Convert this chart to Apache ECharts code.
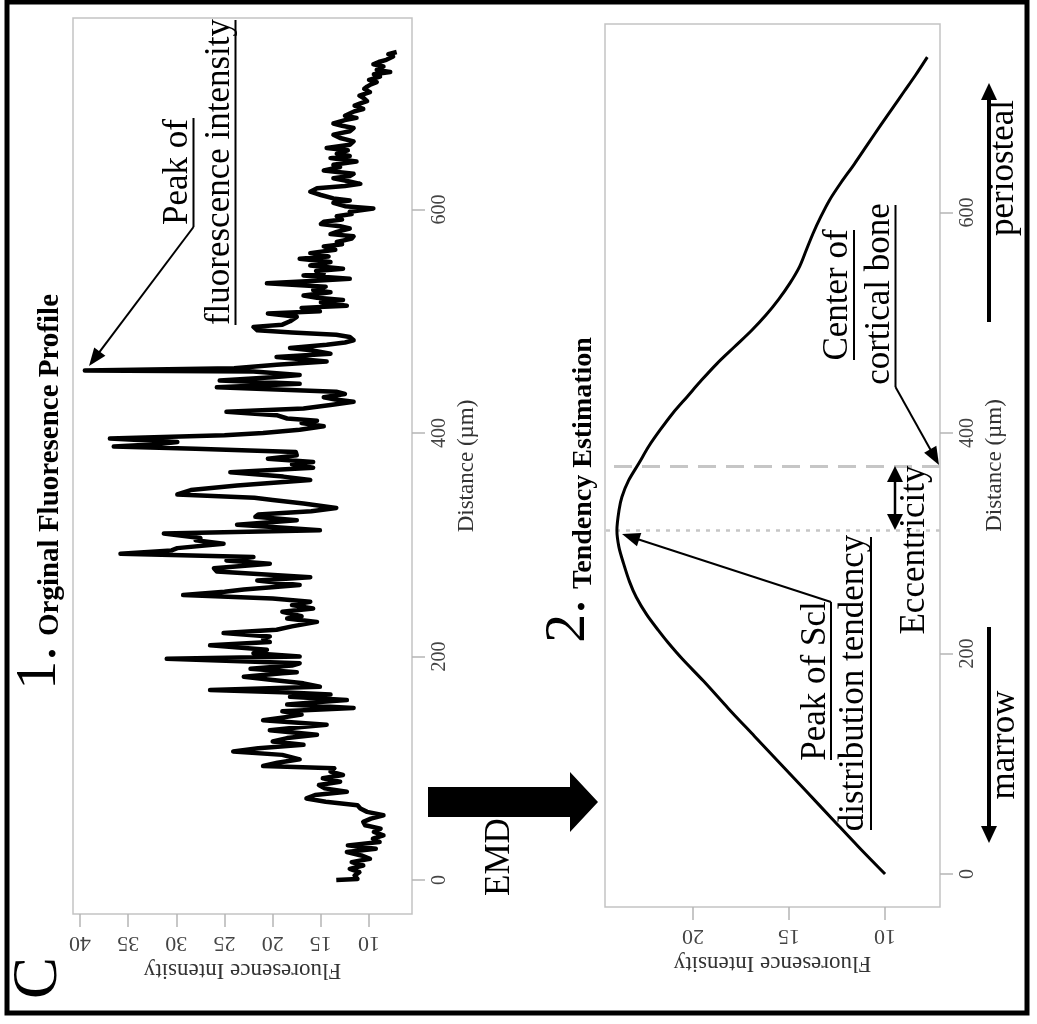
<!DOCTYPE html>
<html><head><meta charset="utf-8">
<script src="https://cdn.jsdelivr.net/npm/echarts@6/dist/echarts.min.js"></script>
<style>html,body{margin:0;padding:0;background:#fff}#c{width:1037px;height:1024px}</style>
</head><body><div id="c"></div>
<script>
// Panel 1: original fluorescence profile (distance in µm, fluorescence intensity)
const distance1 = [0,1,4,7,10,13,16,19,22,25,28,31,34,37,40,43,46,49,52,55,58,61,64,67,70,73,76,79,82,85,88,91,94,97,100,102,
105,108,112,115,118,121,124,127,130,134,137,139,143,146,148,151,154,157,159,161,164,166,168,170,173,176,179,182,185,186,189,192,194,198,200,203,206,210,213,216,218,221,224,227,231,234,236,
240,243,246,249,252,255,258,260,264,268,271,274,276,279,283,286,289,292,295,297,301,304,306,310,313,316,318,322,325,327,330,333,337,340,342,345,349,353,358,361,365,369,
372,374,377,380,383,386,388,390,392,395,398,400,403,406,409,411,413,416,419,422,425,428,430,432,435,437,441,444,447,450,452,455,456,458,461,464,466,468,471,474,476,479,481,483,486,488,490,492,495,497,500,504,
507,509,512,514,517,519,521,523,526,528,531,534,536,538,541,543,545,547,550,553,556,558,561,564,567,569,571,574,576,578,580,583,585,587,589,591,594,596,598,601,603,606,608,610,613,616,619,621,623,626,628,630,632,635,638,640,
643,646,648,650,653,655,658,661,664,667,670,673,675,677,680,682,684,686,688,690,693,695,697,700,702,705,708,710,712,714,716,719,721,723,725,728,730,732,734,737,739,741];
const intensity1 = [13.4,11.2,11.5,11.0,12.0,10.6,11.8,9.9,10.8,12.3,9.3,12.2,8.9,9.6,8.5,9.5,8.8,10.4,10.6,9.8,8.5,10.2,10.9,11.2,14.5,16.5,15.6,12.3,14.6,15.2,13.0,14.8,12.7,14.0,13.6,21.0,
19.5,17.2,19.0,24.1,21.5,16.8,20.0,18.5,15.4,20.3,17.0,14.4,21.0,18.5,17.0,19.0,11.6,18.5,15.5,12.3,18.2,14.0,19.0,26.5,15.1,16.8,20.0,23.0,19.0,17.5,22.3,18.0,17.2,31.0,17.2,22.0,20.6,26.5,20.3,21.0,20.3,25.1,19.6,18.0,15.4,18.5,17.0,
19.0,15.8,18.0,16.1,20.0,29.3,25.0,23.0,17.2,21.6,16.1,22.0,25.8,26.1,20.3,24.8,22.0,35.8,30.5,29.9,25.1,28.0,27.5,31.3,15.1,20.0,23.7,17.5,21.8,21.5,16.0,13.4,16.8,20.0,21.9,29.9,28.5,23.7,16.1,18.9,24.4,15.8,
18.0,15.8,20.5,17.5,17.6,28.0,36.5,32.0,29.9,36.9,25.0,21.0,17.2,14.7,17.0,15.4,18.5,19.6,24.8,16.8,14.0,11.6,13.5,14.7,12.5,13.4,25.8,17.2,25.5,20.0,17.2,22.0,39.5,24.0,19.6,14.4,17.0,19.6,14.0,16.0,18.2,14.4,12.5,11.6,12.0,13.4,18.0,21.6,22.0,19.0,18.2,17.5,
20.5,15.1,17.0,12.3,15.0,12.7,15.4,16.8,14.0,15.8,14.5,20.6,16.0,12.0,16.8,14.7,15.5,12.7,16.1,14.0,17.2,14.2,16.1,13.5,14.7,12.8,13.35,11.8,11.6,14.0,13.35,12.0,13.0,15.0,14.7,12.8,13.35,11.8,12.0,9.55,12.5,13.7,12.0,13.7,15.0,16.1,15.4,12.5,10.9,12.5,13.7,12.0,11.6,14.7,13.0,13.7,
11.3,14.0,12.0,13.35,12.2,14.4,12.0,11.6,13.0,13.7,12.0,11.6,12.8,13.7,12.5,11.3,12.5,12.0,11.5,10.6,11.5,10.9,10.2,10.6,11.0,9.9,10.5,10.2,9.8,9.2,10.0,8.86,9.5,7.8,9.2,8.5,9.55,9.0,8.2,7.5,8.0,7.13];

// Panel 2: tendency estimation (EMD trend)
const distance2 = [0,25,50,75,100,125,150,175,195,210,221,235,251,265,282,297,312,330,342,357,373,388,403,418,433,448,463,478,493,507,521,536,551,566,581,596,611,627,644,662,680,695,710,725,741];
const intensity2 = [10,11.4,12.75,14.1,15.45,16.8,18.15,19.45,20.55,21.3,21.8,22.4,22.95,23.3,23.62,23.86,23.96,23.85,23.7,23.35,22.8,22.3,21.7,21.05,20.3,19.55,18.75,17.85,16.95,16.2,15.55,14.95,14.45,14.1,13.75,13.35,12.9,12.3,11.6,10.9,10.2,9.6,9.0,8.4,7.8];

const intensityTicks1 = [10,15,20,25,30,35,40];
const intensityTicks2 = [10,15,20];
const distanceTicks = [0,200,400,600];
const centerDistance = 370;   // center of cortical bone
const peakDistance = 312;     // peak of Scl distribution tendency

const SERIF = "'Liberation Serif','Times New Roman',serif";

function zip(a, b) { return a.map((v, i) => [b[i], v]); }

function rtext(str, cx, cy, size, bold) {
  return { type: 'text', x: cx, y: cy, rotation: Math.PI / 2, z: 100,
    style: { text: str, fontSize: size, fontFamily: SERIF, fontWeight: bold ? 'bold' : 'normal',
      fill: '#000', align: 'center', verticalAlign: 'middle' } };
}
function seg(x1, y1, x2, y2, w) {
  return { type: 'line', z: 100, shape: { x1, y1, x2, y2 }, style: { stroke: '#000', lineWidth: w || 2 } };
}
function arrow(fx, fy, tx, ty, w, len, half) {
  const dx = tx - fx, dy = ty - fy, L = Math.hypot(dx, dy), ux = dx / L, uy = dy / L;
  const bx = tx - ux * len, by = ty - uy * len;
  return [seg(fx, fy, bx + ux * 2, by + uy * 2, w),
    { type: 'polygon', z: 100, shape: { points: [[tx, ty], [bx - uy * half, by + ux * half], [bx + uy * half, by - ux * half]] },
      style: { fill: '#000' } }];
}

function xAxisCfg(grid, min, max, ticks) {
  return { gridIndex: grid, type: 'value', inverse: true, min, max,
    axisLine: { show: false, onZero: false }, splitLine: { show: false },
    axisTick: { show: true, length: 13, customValues: ticks, lineStyle: { color: '#b5b5b5', width: 1.5 } },
    axisLabel: { rotate: 180, customValues: ticks, fontSize: 22, fontFamily: SERIF, color: '#444', margin: 18 },
    name: 'Fluoresence Intensity', nameLocation: 'middle', nameRotate: 180, nameGap: 44,
    nameTextStyle: { fontSize: 23, fontFamily: SERIF, color: '#333' } };
}
function yAxisCfg(grid, min, max) {
  return { gridIndex: grid, type: 'value', position: 'right', min, max,
    axisLine: { show: false, onZero: false }, splitLine: { show: false },
    axisTick: { show: true, length: 13, customValues: distanceTicks, lineStyle: { color: '#b5b5b5', width: 1.5 } },
    axisLabel: { rotate: 90, customValues: distanceTicks, fontSize: 20, fontFamily: SERIF, color: '#444', margin: 18 },
    name: 'Distance (µm)', nameLocation: 'middle', nameRotate: 90, nameGap: 43,
    nameTextStyle: { fontSize: 23, fontFamily: SERIF, color: '#333' } };
}

const gfx = [
  { type: 'rect', z: 100, shape: { x: 7, y: 2, width: 1020, height: 1011 }, style: { fill: 'none', stroke: '#000', lineWidth: 5 } },
  rtext('C', 39, 978, 63, false),
  rtext('1.', 40, 668, 58, false),
  rtext('Orginal Fluoresence Profile', 51, 465, 29, true),
  rtext('2.', 569, 621, 58, false),
  rtext('Tendency Estimation', 584, 463, 28, true),
  // panel 1 annotation
  rtext('Peak of', 178, 172, 35, false),
  rtext('fluorescence intensity', 220, 172, 35, false),
  seg(193.5, 118, 193.5, 227, 2),
  seg(235.5, 20, 235.5, 325, 2),
  ...arrow(193.5, 227, 89, 366, 2, 18, 7),
  // EMD block arrow
  { type: 'polygon', z: 100, shape: { points: [[428, 787], [570, 787], [570, 772], [598, 802], [570, 832], [570, 817], [428, 817]] }, style: { fill: '#000' } },
  rtext('EMD', 500, 857, 35, false),
  // panel 2 annotations
  rtext('Center of', 838, 295, 35, false),
  rtext('cortical bone', 880, 294, 35, false),
  seg(854, 230, 854, 360, 2),
  seg(895.5, 205, 895.5, 387, 2),
  ...arrow(895.5, 387, 939, 465, 2, 18, 7),
  rtext('Peak of Scl', 816, 681, 35, false),
  rtext('distribution tendency', 854, 683, 35, false),
  seg(831, 602, 831, 760, 2),
  seg(871, 537, 871, 830, 2),
  ...arrow(831, 602, 622, 534, 2, 18, 7),
  rtext('Eccentricity', 915, 550, 35, false),
  ...arrow(895, 498, 895, 466, 2.5, 16, 8),
  ...arrow(895, 498, 895, 530, 2.5, 16, 8),
  rtext('marrow', 1005, 745, 35, false),
  ...arrow(989, 627, 989, 843, 4, 17, 8),
  rtext('periosteal', 1004, 168, 35, false),
  ...arrow(989, 322, 989, 83, 4, 17, 8)
];

const chart = echarts.init(document.getElementById('c'), null, { renderer: 'canvas' });
chart.setOption({
  backgroundColor: '#fff',
  animation: false,
  grid: [
    { left: 73, top: 18, width: 339, height: 896, show: true, borderColor: '#c3c3c3', borderWidth: 1.5, outerBoundsMode: 'none', containLabel: false },
    { left: 605, top: 24, width: 335, height: 883, show: true, borderColor: '#c3c3c3', borderWidth: 1.5, outerBoundsMode: 'none', containLabel: false }
  ],
  xAxis: [xAxisCfg(0, 5.54, 40.73, intensityTicks1), xAxisCfg(1, 7.14, 24.58, intensityTicks2)],
  yAxis: [yAxisCfg(0, -30.4, 771.4), yAxisCfg(1, -29.9, 771)],
  series: [
    { type: 'line', xAxisIndex: 0, yAxisIndex: 0, data: zip(distance1, intensity1), showSymbol: false,
      lineStyle: { color: '#000', width: 4.5, join: 'round' }, z: 5, silent: true },
    { type: 'line', xAxisIndex: 1, yAxisIndex: 1, data: zip(distance2, intensity2), showSymbol: false, smooth: 0.3,
      lineStyle: { color: '#000', width: 3 }, z: 5, silent: true,
      markLine: { silent: true, symbol: 'none', label: { show: false },
        data: [
          { yAxis: centerDistance, lineStyle: { color: '#c6c6c6', width: 3, type: [18, 10] } },
          { yAxis: peakDistance, lineStyle: { color: '#c6c6c6', width: 2.5, type: [4, 6] } }
        ] } }
  ],
  graphic: { elements: gfx }
});
</script></body></html>
